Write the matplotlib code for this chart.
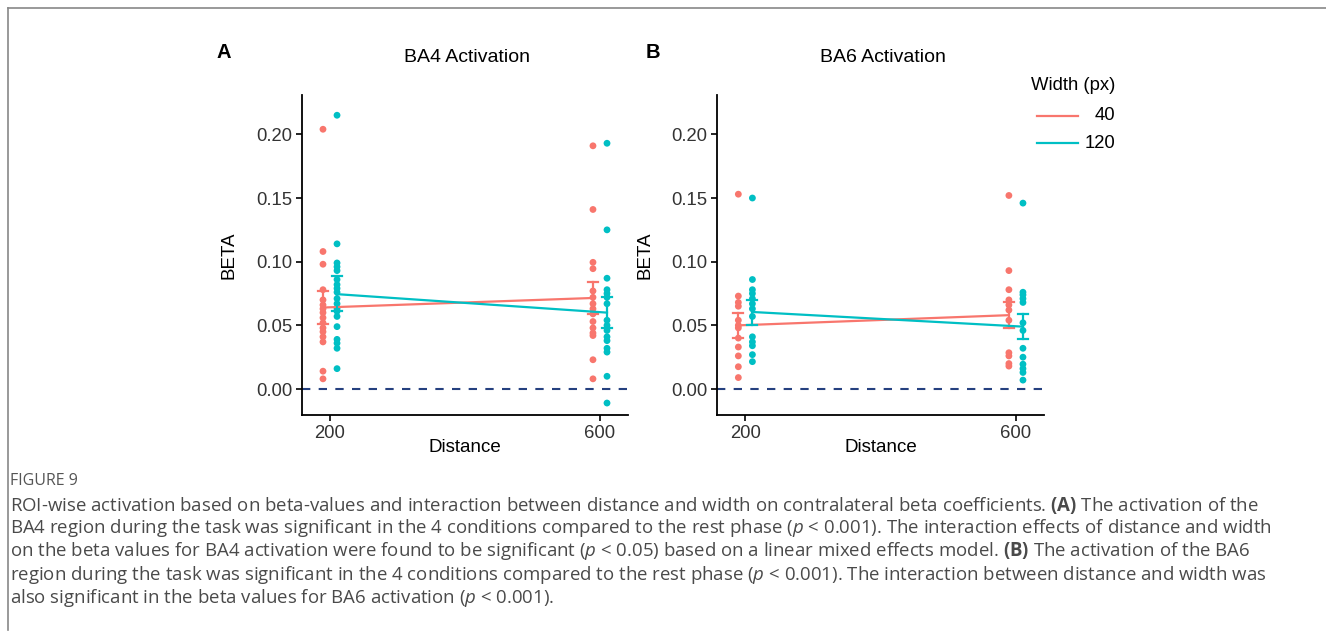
import matplotlib
matplotlib.use("Agg")
import matplotlib.pyplot as plt
from matplotlib.lines import Line2D

# ---------------- data ----------------
distances = [200, 600]
widths = ["40", "120"]
panel_titles = ["BA4 Activation", "BA6 Activation"]
panel_letters = ["A", "B"]
yticks = [0.00, 0.05, 0.10, 0.15, 0.20]

# individual beta values (panel A = BA4)
a_200_w40 = [0.204, 0.108, 0.098, 0.078, 0.070, 0.066, 0.063, 0.060, 0.056, 0.052, 0.048, 0.045, 0.041, 0.037, 0.014, 0.008]
a_200_w120 = [0.215, 0.114, 0.099, 0.096, 0.093, 0.086, 0.082, 0.079, 0.076, 0.071, 0.067, 0.063, 0.061, 0.057, 0.049, 0.039, 0.036, 0.032, 0.016]
a_600_w40 = [0.191, 0.141, 0.0995, 0.0945, 0.077, 0.072, 0.067, 0.063, 0.059, 0.053, 0.048, 0.044, 0.042, 0.023, 0.008]
a_600_w120 = [0.193, 0.125, 0.087, 0.078, 0.075, 0.072, 0.067, 0.054, 0.050, 0.046, 0.041, 0.038, 0.032, 0.029, 0.010, -0.011]
# panel B = BA6
b_200_w40 = [0.153, 0.073, 0.068, 0.065, 0.054, 0.050, 0.048, 0.040, 0.033, 0.026, 0.0175, 0.009]
b_200_w120 = [0.150, 0.086, 0.078, 0.075, 0.071, 0.067, 0.063, 0.057, 0.041, 0.037, 0.034, 0.027, 0.0215]
b_600_w40 = [0.152, 0.093, 0.078, 0.070, 0.066, 0.062, 0.054, 0.0285, 0.026, 0.020, 0.018]
b_600_w120 = [0.146, 0.076, 0.074, 0.071, 0.068, 0.052, 0.046, 0.032, 0.025, 0.0195, 0.016, 0.013, 0.007]

# model means and standard-error limits, per width, at 200 and 600
a_mean_w40 = [0.064, 0.0715]
a_lo_w40 = [0.051, 0.059]
a_hi_w40 = [0.077, 0.084]
a_mean_w120 = [0.0745, 0.060]
a_lo_w120 = [0.061, 0.048]
a_hi_w120 = [0.089, 0.072]
b_mean_w40 = [0.050, 0.058]
b_lo_w40 = [0.040, 0.048]
b_hi_w40 = [0.060, 0.068]
b_mean_w120 = [0.0605, 0.049]
b_lo_w120 = [0.050, 0.039]
b_hi_w120 = [0.070, 0.059]

caption_lines = [
    r"ROI-wise activation based on beta-values and interaction between distance and width on contralateral beta coefficients. $\mathbf{(A)}$ The activation of the",
    r"BA4 region during the task was significant in the 4 conditions compared to the rest phase ($p$ < 0.001). The interaction effects of distance and width",
    r"on the beta values for BA4 activation were found to be significant ($p$ < 0.05) based on a linear mixed effects model. $\mathbf{(B)}$ The activation of the BA6",
    r"region during the task was significant in the 4 conditions compared to the rest phase ($p$ < 0.001). The interaction between distance and width was",
    r"also significant in the beta values for BA6 activation ($p$ < 0.001).",
]

# ---------------- style ----------------
RED = "#F8766D"
TEAL = "#00BFC4"
colors = [RED, TEAL]
NAVY = "#25407F"
FONT = "Liberation Sans"
plt.rcParams["font.family"] = [FONT, "DejaVu Sans"]
plt.rcParams["mathtext.fontset"] = "custom"
plt.rcParams["mathtext.rm"] = "Open Sans"
plt.rcParams["mathtext.it"] = "Open Sans:italic"
plt.rcParams["mathtext.bf"] = "Open Sans:bold"

W, H = 1326, 634
fig = plt.figure(figsize=(W / 100, H / 100), dpi=100)

def fx(px):
    return px / W

def fy(py):
    return 1 - py / H

panels = [
    dict(points=[[a_200_w40, a_600_w40], [a_200_w120, a_600_w120]],
         means=[a_mean_w40, a_mean_w120], lo=[a_lo_w40, a_lo_w120], hi=[a_hi_w40, a_hi_w120],
         left=302, right=628),
    dict(points=[[b_200_w40, b_600_w40], [b_200_w120, b_600_w120]],
         means=[b_mean_w40, b_mean_w120], lo=[b_lo_w40, b_lo_w120], hi=[b_hi_w40, b_hi_w120],
         left=717.3, right=1044),
]

top_px, bot_px = 95, 415
dodge = [-10.4, 10.4]
for k, p in enumerate(panels):
    ax = fig.add_axes([fx(p["left"]), fy(bot_px), fx(p["right"] - p["left"]), (bot_px - top_px) / H])
    for wi in range(2):
        c = colors[wi]
        xs_line = [d + dodge[wi] for d in distances]
        for di, d in enumerate(distances):
            vals = p["points"][wi][di]
            ax.scatter([d + dodge[wi]] * len(vals), vals, s=24, color=c, edgecolors="none", zorder=3)
        ax.plot(xs_line, p["means"][wi], color=c, lw=1.6, zorder=4)
        for di in range(2):
            ax.plot([xs_line[di]] * 2, [p["lo"][wi][di], p["hi"][wi][di]], color=c, lw=1.6, zorder=4)
            for yy in (p["lo"][wi][di], p["hi"][wi][di]):
                ax.plot([xs_line[di] - 7.5, xs_line[di] + 7.5], [yy, yy], color=c, lw=1.6, zorder=4)
    ax.axhline(0, color=NAVY, lw=1.5, ls=(0, (4, 4)), zorder=2)
    ax.set_xlim(158.5, 641.5)
    ax.set_ylim(-0.0204, 0.2309)
    ax.set_xticks(distances)
    ax.set_xticklabels([str(d) for d in distances])
    ax.set_yticks(yticks)
    ax.set_yticklabels([f"{v:.2f}" for v in yticks])
    for s in ("top", "right"):
        ax.spines[s].set_visible(False)
    for s in ("left", "bottom"):
        ax.spines[s].set_linewidth(1.3)
    ax.tick_params(axis="both", length=4, width=1.2, labelsize=13.3, colors="black",
                   labelcolor="#333333", pad=3)
    ax.set_xlabel("Distance", fontsize=13.5, labelpad=-2)
    ax.set_ylabel("BETA", fontsize=13.5, labelpad=13)
    cx = (p["left"] + p["right"]) / 2
    fig.text(fx(cx + 2), fy(57), panel_titles[k], ha="center", va="center", fontsize=14)
    fig.text(fx(224 + k * 429), fy(52), panel_letters[k], ha="center", va="center",
             fontsize=14.5, fontweight="bold")

# legend
fig.text(fx(1031), fy(86), "Width (px)", ha="left", va="center", fontsize=13.3)
for i, (w, c) in enumerate(zip(widths, colors)):
    yy = fy(116 + i * 27)
    fig.add_artist(Line2D([fx(1037), fx(1078)], [yy, yy], color=c, lw=1.6))
    fig.text(fx(1115), yy, w, ha="right", va="center", fontsize=13.3)

# frame lines
fig.add_artist(Line2D([fx(8), 1], [fy(8), fy(8)], color="#888888", lw=1.2))
fig.add_artist(Line2D([fx(8), fx(8)], [fy(8), fy(630)], color="#888888", lw=1.2))

# caption
fig.text(fx(10), fy(481), "FIGURE 9", ha="left", va="center", fontsize=11.5,
         color="#555555", family="Open Sans")
for i, line in enumerate(caption_lines):
    fig.text(fx(10), fy(505 + i * 23.2), line, ha="left", va="center", fontsize=13.4,
             color="#4a4a4a", family="Open Sans")

fig.savefig("out.png", dpi=100)
